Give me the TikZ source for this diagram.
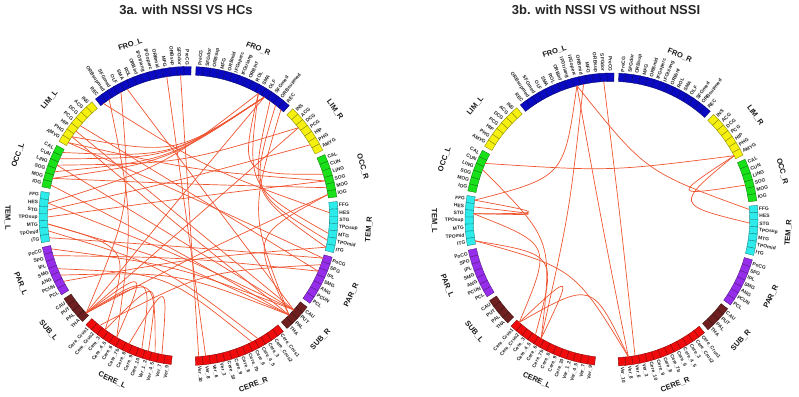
\documentclass[tikz,border=0pt]{standalone}
\usepackage{fontspec}
\setmainfont{Liberation Sans}
\usetikzlibrary{calc}
\definecolor{cFRO}{RGB}{10,10,195}
\definecolor{cLIM}{RGB}{245,240,15}
\definecolor{cOCC}{RGB}{25,225,25}
\definecolor{cTEM}{RGB}{45,235,235}
\definecolor{cPAR}{RGB}{150,45,235}
\definecolor{cSUB}{RGB}{110,32,32}
\definecolor{cCERE}{RGB}{240,12,12}
\definecolor{linkc}{RGB}{240,85,50}

\def\namesFROL{PreCG,SFGdor,ORBsup,MFG,ORBmid,IFGoperc,IFGtriang,ORBinf,ROL,SMA,OLF,SFGmed,ORBsupmed,REC}
\let\namesFROR\namesFROL
\def\namesLIML{INS,ACG,DCG,PCG,HIP,PHG,AMYG}\let\namesLIMR\namesLIML
\def\namesOCCL{CAL,CUN,LING,SOG,MOG,IOG}\let\namesOCCR\namesOCCL
\def\namesTEML{FFG,HES,STG,TPOsup,MTG,TPOmid,ITG}\let\namesTEMR\namesTEML
\def\namesPARL{PoCG,SPG,IPL,SMG,ANG,PCUN,PCL}\let\namesPARR\namesPARL
\def\namesSUBL{CAU,PUT,PAL,THA}\let\namesSUBR\namesSUBL
\def\namesCEREL{Cere\_Crus1,Cere\_Crus2,Cere\_3,Cere\_4\_5,Cere\_6,Cere\_7b,Cere\_8,Cere\_9,Cere\_10,Ver\_1\_2,Ver\_4\_5,Ver\_7,Ver\_9}
\def\namesCERER{Cere\_Crus1,Cere\_Crus2,Cere\_3,Cere\_4\_5,Cere\_6,Cere\_7b,Cere\_8,Cere\_9,Cere\_10,Ver\_3,Ver\_6,Ver\_8,Ver\_10}

\def\Ri{141}\def\Ro{149.5}\def\Rl{181}\def\bw{2.82}\def\gp{1.8}

\tikzset{
  block/.style={fill=#1, draw=#1!55!black, line width=0.35pt},
  blab/.style={font=\bfseries\fontsize{4.9}{5.5}\selectfont, inner sep=0pt, text=black!85},
  lobelab/.style={font=\bfseries\fontsize{7.5}{9}\selectfont, inner sep=0pt, text=black!90},
  link/.style={draw=linkc, line width=0.7pt},
  titlestyle/.style={font=\bfseries\fontsize{13}{15}\selectfont, inner sep=0pt, text=black!85}
}

\newcommand\halfring[3]{%
  \ifx L#2\def\mydir{1}\else\def\mydir{-1}\fi
  \foreach \lab/\off/\cnt [count=\li from 0] in {FRO/0/14,LIM/14/7,OCC/21/6,TEM/27/7,PAR/34/7,SUB/41/4,CERE/45/13}{%
    \expandafter\let\expandafter\curlist\csname names\lab#2\endcsname
    \foreach \nm [count=\ki from 0] in \curlist {%
      \pgfmathsetmacro\mytc{#3+\mydir*((\off+\ki+0.5)*\bw+\li*\gp)}%
      \pgfmathsetmacro\myta{\mytc-\bw/2}%
      \pgfmathsetmacro\mytb{\mytc+\bw/2}%
      \filldraw[block=c\lab] (\myta:\Ri) -- (\mytb:\Ri) -- (\mytb:\Ro) -- (\myta:\Ro) -- cycle;
      \coordinate (#1-#2-\lab-\ki) at (\mytc:\Ri);
      \expandafter\xdef\csname ang@#1-#2-\lab-\ki\endcsname{\mytc}%
      \ifnum\mydir>0
        \node[blab, anchor=east, rotate=\mytc-180] (#1-#2-\lab-\ki-t) at (\mytc:\Ro+1.3) {\nm};
      \else
        \node[blab, anchor=west, rotate=\mytc] (#1-#2-\lab-\ki-t) at (\mytc:\Ro+1.3) {\nm};
      \fi
    }
    \pgfmathsetmacro\mytm{#3+\mydir*((\off+\cnt/2)*\bw+\li*\gp)}%
    \pgfmathsetmacro\myrot{(\mytm>180 || \mytm<0) ? \mytm+90 : \mytm-90}%
    \node[lobelab, rotate=\myrot] (#1-#2-\lab) at (\mytm:\Rl) {\lab\_#2};
  }%
}

\newcommand\lk[3]{%
  \pgfmathsetmacro\myaA{\csname ang@#1-#2\endcsname}%
  \pgfmathsetmacro\myaB{\csname ang@#1-#3\endcsname}%
  \pgfmathsetmacro\mydd{mod(\myaB-\myaA+540,360)-180}%
  \pgfmathsetmacro\mybis{\myaA+\mydd/2}%
  \pgfmathsetmacro\mycrad{0.47*\Ri*(1-(abs(\mydd)/180)^4)}%
  \coordinate (#1-#2-#3-c) at (\mybis:\mycrad);
  \draw[link] (#1-#2) .. controls (#1-#2-#3-c) .. (#1-#3);
}

\begin{document}
\begin{tikzpicture}[x=1pt,y=1pt]
\useasboundingbox (0,0) rectangle (799,-396);
\fill[white] (0,0) rectangle (799,-396);

\node[titlestyle] (title-a) at (186,-9.5) {3a. with NSSI VS HCs};
\node[titlestyle] (title-b) at (606,-10) {3b. with NSSI VS without NSSI};

% ---------- 3a ----------
\begin{scope}[shift={(188.5,-216)}]
\halfring{a}{L}{89}
\halfring{a}{R}{87.1}
\lk{a}{L-FRO-1}{R-CERE-12}
\lk{a}{L-FRO-3}{R-CERE-11}
\lk{a}{L-FRO-10}{L-SUB-3}
\lk{a}{L-FRO-13}{R-TEM-1}
\lk{a}{L-FRO-12}{L-CERE-4}
\lk{a}{L-FRO-9}{R-SUB-1}
\lk{a}{R-FRO-10}{L-OCC-0}
\lk{a}{R-FRO-10}{L-OCC-1}
\lk{a}{R-FRO-10}{L-OCC-3}
\lk{a}{R-FRO-10}{L-OCC-4}
\lk{a}{R-FRO-9}{L-TEM-1}
\lk{a}{R-FRO-10}{L-LIM-5}
\lk{a}{R-FRO-9}{R-OCC-2}
\lk{a}{R-FRO-10}{L-SUB-3}
\lk{a}{R-FRO-13}{R-SUB-2}
\lk{a}{R-FRO-12}{R-TEM-5}
\lk{a}{L-LIM-4}{R-SUB-1}
\lk{a}{L-LIM-5}{R-SUB-2}
\lk{a}{L-LIM-3}{R-PAR-2}
\lk{a}{L-LIM-6}{R-OCC-3}
\lk{a}{L-OCC-2}{R-SUB-1}
\lk{a}{L-OCC-5}{R-SUB-2}
\lk{a}{L-OCC-4}{R-OCC-4}
\lk{a}{L-TEM-1}{R-SUB-1}
\lk{a}{L-TEM-4}{R-SUB-2}
\lk{a}{L-TEM-6}{R-PAR-0}
\lk{a}{L-TEM-4}{L-CERE-2}
\lk{a}{L-PAR-0}{R-SUB-1}
\lk{a}{L-PAR-4}{R-SUB-2}
\lk{a}{L-PAR-5}{R-TEM-6}
\lk{a}{L-PAR-3}{R-CERE-4}
\lk{a}{L-SUB-3}{L-CERE-4}
\lk{a}{L-SUB-3}{L-CERE-8}
\lk{a}{L-SUB-3}{L-CERE-10}
\lk{a}{L-SUB-3}{R-OCC-5}
\lk{a}{L-SUB-3}{R-LIM-2}
\lk{a}{L-CERE-2}{L-CERE-9}
\lk{a}{L-CERE-6}{L-CERE-11}
\lk{a}{L-CERE-1}{R-PAR-1}
\lk{a}{R-CERE-3}{L-TEM-5}
\lk{a}{R-TEM-4}{R-FRO-9}
\lk{a}{R-TEM-6}{R-FRO-11}
\lk{a}{R-PAR-0}{L-LIM-6}
\lk{a}{R-PAR-2}{L-PAR-1}
\lk{a}{R-LIM-2}{L-OCC-2}
\lk{a}{R-LIM-5}{L-TEM-2}
\lk{a}{R-OCC-3}{L-TEM-3}
\lk{a}{R-OCC-5}{R-SUB-2}
\end{scope}

% ---------- 3b ----------
\begin{scope}[shift={(611.5,-219.5)}, scale=0.98]
\halfring{b}{L}{89}
\halfring{b}{R}{87.1}
\lk{b}{L-FRO-1}{R-CERE-10}
\lk{b}{L-FRO-5}{R-CERE-11}
\lk{b}{L-FRO-5}{R-TEM-0}
\lk{b}{L-FRO-5}{L-TEM-0}
\lk{b}{L-FRO-4}{L-CERE-4}
\lk{b}{L-OCC-1}{R-LIM-6}
\lk{b}{L-OCC-2}{L-CERE-4}
\lk{b}{L-TEM-1}{L-TEM-2}
\lk{b}{L-TEM-0}{L-TEM-2}
\lk{b}{L-TEM-2}{L-CERE-0}
\lk{b}{L-TEM-6}{L-CERE-3}
\lk{b}{L-TEM-6}{R-CERE-11}
\lk{b}{L-CERE-0}{L-CERE-4}
\lk{b}{L-CERE-0}{R-CERE-11}
\lk{b}{R-LIM-6}{R-OCC-3}
\lk{b}{R-LIM-6}{R-TEM-2}
\end{scope}
\end{tikzpicture}
\end{document}
